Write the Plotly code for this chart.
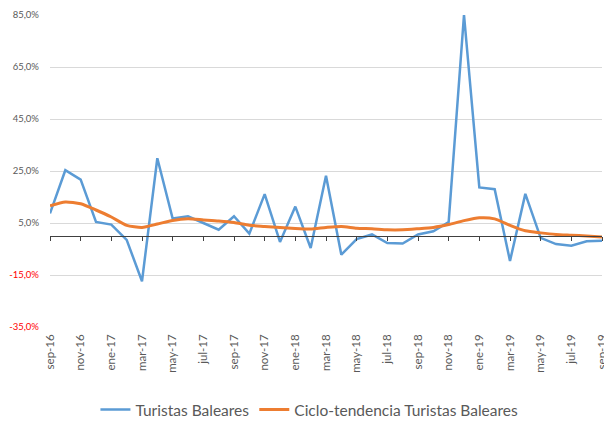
import plotly.graph_objects as go

months = ["sep-16","oct-16","nov-16","dic-16","ene-17","feb-17","mar-17","abr-17","may-17","jun-17","jul-17","ago-17",
          "sep-17","oct-17","nov-17","dic-17","ene-18","feb-18","mar-18","abr-18","may-18","jun-18","jul-18","ago-18",
          "sep-18","oct-18","nov-18","dic-18","ene-19","feb-19","mar-19","abr-19","may-19","jun-19","jul-19","ago-19","sep-19"]

turistas = [8.7, 25.3, 21.7, 5.4, 4.4, -1.5, -17.4, 29.9, 6.7, 7.6, 5.0, 2.4,
            7.6, 0.9, 16.1, -2.3, 11.3, -4.6, 23.2, -7.2, -1.2, 0.6, -2.7, -2.9,
            0.6, 1.8, 5.4, 85.0, 18.7, 18.0, -9.6, 16.2, -0.7, -3.1, -3.7, -2.0, -1.8]

tendencia = [11.6, 13.1, 12.4, 10.0, 7.3, 4.1, 3.3, 4.6, 6.0, 6.6, 6.2, 5.8,
             5.2, 4.1, 3.7, 3.3, 2.9, 2.7, 3.3, 3.7, 3.0, 2.8, 2.4, 2.4,
             2.8, 3.3, 4.4, 5.9, 7.0, 6.6, 4.1, 2.0, 1.2, 0.6, 0.3, 0.0, -0.4]

y_ticks = [-35, -15, 5, 25, 45, 65, 85]
y_text = [("<span style='color:#FF0000'>%s</span>" if v < 0 else "%s") % (f"{v:.1f}".replace(".", ",") + "%")
          for v in y_ticks]
x_tickvals = months[::2]

FONT = "Lato"
GREY = "#595959"

fig = go.Figure()
fig.add_trace(go.Scatter(x=months, y=turistas, mode="lines", name="Turistas Baleares",
                         line=dict(color="#5B9BD5", width=2.5)))
fig.add_trace(go.Scatter(x=months, y=tendencia, mode="lines", name="Ciclo-tendencia Turistas Baleares",
                         line=dict(color="#ED7D31", width=3, shape="spline", smoothing=0.6)))
# invisible trace on the secondary x axis (zero axis line with ticks)
fig.add_trace(go.Scatter(x=months, y=[None]*len(months), xaxis="x2", showlegend=False, hoverinfo="skip"))

fig.update_layout(
    width=604, height=421,
    margin=dict(l=50, r=2, t=15, b=94, autoexpand=False),
    paper_bgcolor="white", plot_bgcolor="white",
    font=dict(family=FONT, color=GREY, size=11),
    xaxis=dict(type="category", categoryorder="array", categoryarray=months,
               range=[0, len(months) - 1], tickmode="array", tickvals=x_tickvals,
               tickangle=-90, showgrid=False, showline=False, ticks="", automargin=False,
               tickfont=dict(size=11.5, color=GREY), zeroline=False, ticklabelstandoff=4),
    xaxis2=dict(type="category", categoryorder="array", categoryarray=months,
                range=[0, len(months) - 1], overlaying="x", anchor="free", automargin=False,
                position=(0 - (-35)) / 120, showline=True, linecolor="#404040", linewidth=1,
                ticks="outside", ticklen=4, tickcolor="#404040", tickmode="array",
                tickvals=x_tickvals, showticklabels=False, showgrid=False, zeroline=False),
    yaxis=dict(range=[-35, 85], tickmode="array", tickvals=y_ticks, ticktext=y_text,
               showgrid=True, gridcolor="#D9D9D9", gridwidth=1, zeroline=False, automargin=False,
               showline=False, ticks="", ticklabelstandoff=10,
               tickfont=dict(size=9.5, color=GREY)),
    legend=dict(orientation="h", x=0.47, xanchor="center", y=-0.266, yanchor="middle",
                font=dict(size=15.5, color=GREY), itemwidth=30, traceorder="normal"),
    showlegend=True,
)

fig.write_html("out.html", config={"displayModeBar": False},
               post_script="document.body.style.margin='0';document.body.style.overflow='hidden';")
